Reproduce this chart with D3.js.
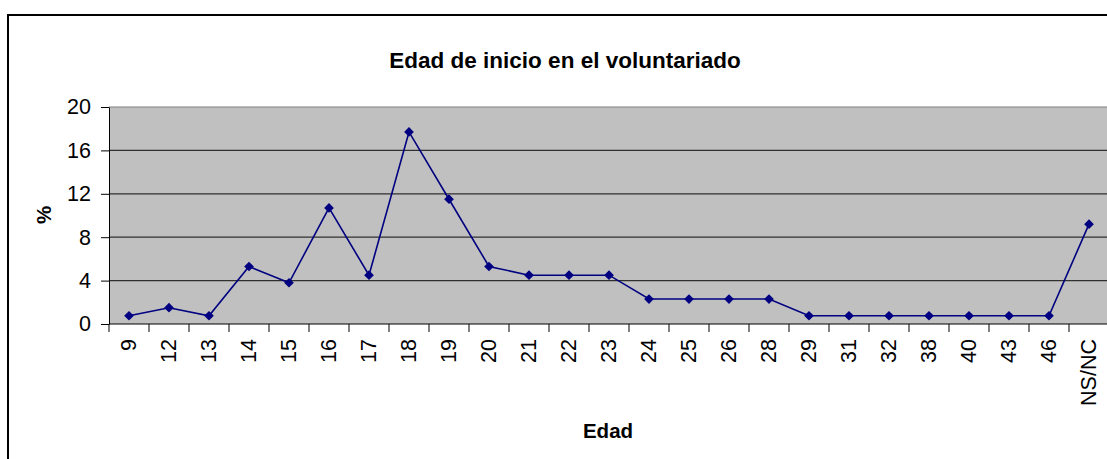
<!DOCTYPE html>
<html>
<head>
<meta charset="utf-8">
<script src="https://cdn.jsdelivr.net/npm/d3@7"></script>
<style>
  body { margin: 0; background: #fff; }
  text { font-family: "Liberation Sans", Arial, sans-serif; }
</style>
</head>
<body>
<script>
// categories (age of start) and % values
var edades = ["9","12","13","14","15","16","17","18","19","20","21","22","23","24","25","26","28","29","31","32","38","40","43","46","NS/NC"];
var porcentajes = [0.76, 1.5, 0.76, 5.3, 3.8, 10.7, 4.5, 17.7, 11.5, 5.3, 4.5, 4.5, 4.5, 2.3, 2.3, 2.3, 2.3, 0.76, 0.76, 0.76, 0.76, 0.76, 0.76, 0.76, 9.2];
var yTicks = [0, 4, 8, 12, 16, 20];

var width = 1107, height = 459;
var plot = {left: 109, right: 1109, top: 107, bottom: 324};

var svg = d3.select("body").append("svg")
  .attr("width", width)
  .attr("height", height);

// outer chart frame
svg.append("rect")
  .attr("x", 8).attr("y", 15)
  .attr("width", 1120).attr("height", 470)
  .attr("fill", "#fff")
  .attr("stroke", "#000").attr("stroke-width", 2);

var x = d3.scaleBand().domain(edades).range([plot.left, plot.right]);
var y = d3.scaleLinear().domain([0, 20]).range([plot.bottom, plot.top]);

// plot background
svg.append("rect")
  .attr("x", plot.left).attr("y", plot.top)
  .attr("width", plot.right - plot.left).attr("height", plot.bottom - plot.top)
  .attr("fill", "#c0c0c0");

// gridlines
svg.append("g").selectAll("line")
  .data(yTicks.filter(function(d) { return d > 0; }))
  .enter().append("line")
  .attr("x1", plot.left).attr("x2", plot.right)
  .attr("y1", function(d) { return y(d); })
  .attr("y2", function(d) { return y(d); })
  .attr("stroke", function(d) { return d === 20 ? "#808080" : "#303030"; })
  .attr("stroke-width", 1.2);

// y axis
var yAxis = svg.append("g")
  .attr("transform", "translate(" + plot.left + ",0)")
  .call(d3.axisLeft(y).tickValues(yTicks).tickSize(8).tickSizeOuter(0).tickPadding(10));
yAxis.select(".domain").attr("stroke", "#000");
yAxis.selectAll(".tick line").attr("stroke", "#000");
yAxis.selectAll("text")
  .style("font-size", "21.5px")
  .attr("fill", "#000");

// x axis with ticks at band edges
var xg = svg.append("g");
xg.append("line")
  .attr("x1", plot.left).attr("x2", plot.right)
  .attr("y1", plot.bottom).attr("y2", plot.bottom)
  .attr("stroke", "#000");
xg.selectAll(".tk")
  .data(edades)
  .enter().append("line")
  .attr("class", "tk")
  .attr("x1", function(d) { return x(d); })
  .attr("x2", function(d) { return x(d); })
  .attr("y1", plot.bottom).attr("y2", plot.bottom + 8)
  .attr("stroke", "#000");
xg.selectAll(".lbl")
  .data(edades)
  .enter().append("text")
  .attr("class", "lbl")
  .attr("transform", function(d) {
    return "translate(" + (x(d) + x.bandwidth() / 2 + 7) + "," + (plot.bottom + 15) + ")rotate(-90)";
  })
  .attr("text-anchor", "end")
  .style("font-size", "21.5px")
  .attr("fill", "#000")
  .text(function(d) { return d; });

// series line
var line = d3.line()
  .x(function(d, i) { return x(edades[i]) + x.bandwidth() / 2; })
  .y(function(d) { return y(d); });

svg.append("path")
  .datum(porcentajes)
  .attr("d", line)
  .attr("fill", "none")
  .attr("stroke", "#000080")
  .attr("stroke-width", 1.6);

// diamond markers
var diamond = d3.symbol().type(d3.symbolDiamond2).size(60);
svg.append("g").selectAll("path")
  .data(porcentajes)
  .enter().append("path")
  .attr("d", diamond)
  .attr("transform", function(d, i) {
    return "translate(" + (x(edades[i]) + x.bandwidth() / 2) + "," + y(d) + ")";
  })
  .attr("fill", "#000080");

// titles
svg.append("text")
  .attr("x", 565).attr("y", 68)
  .attr("text-anchor", "middle")
  .style("font-size", "22.5px").style("font-weight", "bold")
  .text("Edad de inicio en el voluntariado");

svg.append("text")
  .attr("transform", "translate(51,215)rotate(-90)")
  .attr("text-anchor", "middle")
  .style("font-size", "20.5px").style("font-weight", "bold")
  .text("%");

svg.append("text")
  .attr("x", 608).attr("y", 438)
  .attr("text-anchor", "middle")
  .style("font-size", "20.5px").style("font-weight", "bold")
  .text("Edad");
</script>
</body>
</html>
